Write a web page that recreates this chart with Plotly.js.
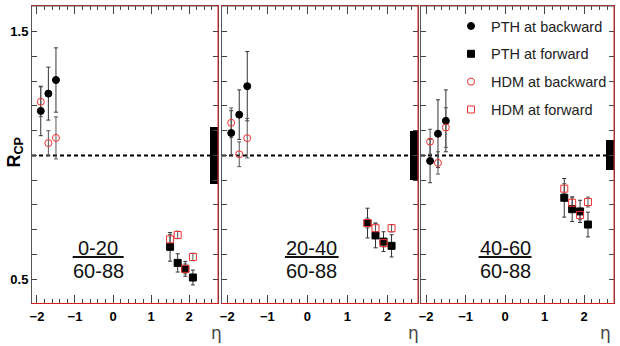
<!DOCTYPE html>
<html><head><meta charset="utf-8">
<script src="https://cdn.plot.ly/plotly-3.0.1.min.js"></script>
<style>html,body{margin:0;padding:0;background:#fff}#plot{width:620px;height:346px}</style>
</head><body><div id="plot"></div>
<script>
// eta positions
const etaBackward = [-1.9, -1.7, -1.5];
const etaForward = [1.5, 1.7, 1.9, 2.1];
// centrality panels
const panelNum = ["0-20", "20-40", "40-60"];
const panelDen = ["60-88", "60-88", "60-88"];
// PTH backward (filled circles)
const pthBack = [[1.18, 1.25, 1.305], [1.091, 1.165, 1.28], [0.978, 1.088, 1.14]];
const pthBackErr = [[0.10, 0.107, 0.13], [0.09, 0.10, 0.14], [0.088, 0.137, 0.125]];
// PTH forward (filled squares)
const pthFwd = [[0.631, 0.566, 0.542, 0.507], [0.727, 0.677, 0.652, 0.635], [0.829, 0.783, 0.774, 0.721]];
const pthFwdErr = [[0.058, 0.037, 0.03, 0.03], [0.06, 0.05, 0.04, 0.045], [0.078, 0.05, 0.045, 0.05]];
// HDM backward (open red circles)
const hdmBack = [[1.217, 1.05, 1.071], [1.132, 1.005, 1.07], [1.056, 0.970, 1.113]];
const hdmBackErr = [[0.06, 0.05, 0.085], [0.06, 0.05, 0.08], [0.05, 0.045, 0.08]];
// HDM forward (open red squares)
const hdmFwd = [[0.661, 0.679, 0.542, 0.590], [0.727, 0.706, 0.646, 0.706], [0.866, 0.809, 0.760, 0.812]];
const hdmFwdErr = [[0.02, 0.015, 0.02, 0.015], [0.02, 0.02, 0.015, 0.015], [0.02, 0.02, 0.02, 0.02]];
// normalization uncertainty boxes
const normEta = [2.65, 2.65, 2.65];
const normLow = [0.885, 0.90, 0.94];
const normHigh = [1.115, 1.10, 1.063];
const seriesNames = ["PTH at backward", "PTH at forward", "HDM at backward", "HDM at forward"];

const xDomains = [[32/620, 218/620], [222/620, 418/620], [421/620, 614/620]];
const yDomain = [1 - 303/346, 1 - 6/346];
const xRange = [-2.13, 2.76];
const yRange = [0.404, 1.604];
const font = "Liberation Sans, Arial, sans-serif";
const red = "#f03030";

const traces = [];
const layout = {
  width: 620, height: 346, margin: {l: 0, r: 0, t: 0, b: 0, autoexpand: false},
  paper_bgcolor: "#fff", plot_bgcolor: "#fff", showlegend: true,
  legend: {x: 612/620, y: 1 - 10/346, xanchor: "right", yanchor: "top", bgcolor: "rgba(0,0,0,0)",
    font: {family: font, size: 14.5, color: "#222"}, tracegroupgap: 6},
  shapes: [], annotations: [], bargap: 0
};

for (let p = 0; p < 3; p++) {
  const xa = p === 0 ? "x" : "x" + (p + 1);
  const ya = p === 0 ? "y" : "y" + (p + 1);
  const xk = p === 0 ? "xaxis" : "xaxis" + (p + 1);
  const yk = p === 0 ? "yaxis" : "yaxis" + (p + 1);
  const show = p === 2;
  traces.push({type: "bar", x: [normEta[p]], y: [normHigh[p] - normLow[p]], base: [normLow[p]], width: 0.2,
    marker: {color: "#000", line: {width: 0}}, xaxis: xa, yaxis: ya, showlegend: false, hoverinfo: "skip"});
  const series = [
    {x: etaBackward, y: pthBack[p], e: pthBackErr[p], ec: "#333", sym: "circle", col: "#000", g: "a", n: seriesNames[0]},
    {x: etaForward, y: pthFwd[p], e: pthFwdErr[p], ec: "#333", sym: "square", col: "#000", g: "b", n: seriesNames[1]},
    {x: etaBackward, y: hdmBack[p], e: hdmBackErr[p], ec: "#555", sym: "circle-open", col: red, g: "c", n: seriesNames[2]},
    {x: etaForward, y: hdmFwd[p], e: hdmFwdErr[p], ec: "#555", sym: "square-open", col: red, g: "d", n: seriesNames[3]}
  ];
  // error bars (no legend)
  series.forEach(s => traces.push({type: "scatter", mode: "markers", x: s.x, y: s.y, xaxis: xa, yaxis: ya,
    showlegend: false, marker: {size: 7, opacity: 0, color: s.col},
    error_y: {type: "data", array: s.e, color: s.ec, thickness: 1, width: 2}}));
  // markers
  series.forEach(s => traces.push({type: "scatter", mode: "markers", x: s.x, y: s.y, xaxis: xa, yaxis: ya,
    name: s.n, legendgroup: s.g, showlegend: show,
    marker: {symbol: s.sym, size: 7, color: s.col, line: {width: 1, color: s.col}}}));

  layout[xk] = {domain: xDomains[p], range: xRange, anchor: ya, showgrid: false, zeroline: false,
    showline: true, linecolor: "#d42020", linewidth: 1, mirror: "ticks",
    ticks: "inside", ticklen: 8, tickcolor: "#444", tickwidth: 1, dtick: 1, tick0: 0,
    minor: {ticks: "inside", ticklen: 4, dtick: 0.2, tick0: 0, tickcolor: "#444", showgrid: false},
    tickfont: {family: font, size: 13, color: "#000", weight: "bold"}, ticklabelstandoff: 1, fixedrange: true};
  layout[yk] = {domain: yDomain, range: yRange, anchor: xa, showgrid: false, zeroline: false,
    showline: true, linecolor: "#555", linewidth: 1, mirror: "ticks",
    ticks: "inside", ticklen: 5, tickcolor: "#444", tickwidth: 1,
    tickmode: "array", tickvals: [0.5, 1.5], ticktext: ["0.5", "1.5"], showticklabels: p === 0,
    minor: {ticks: "inside", ticklen: 5, dtick: 0.1, tick0: 0, tickcolor: "#444", showgrid: false},
    tickfont: {family: font, size: 13, color: "#000", weight: "bold"}, fixedrange: true};

  // top (dark) and right (red) frame lines
  layout.shapes.push({type: "line", xref: xa + " domain", yref: ya + " domain", x0: 0, x1: 1, y0: 1, y1: 1,
    line: {color: "#555", width: 1}, layer: "above"});
  layout.shapes.push({type: "line", xref: xa + " domain", yref: ya + " domain", x0: 1, x1: 1, y0: 0, y1: 1,
    line: {color: "#d42020", width: 1}, layer: "above"});
  // reference line at R_CP = 1
  layout.shapes.push({type: "line", xref: xa + " domain", yref: ya, x0: 0, x1: 1, y0: 1, y1: 1,
    line: {color: "#000", width: 2, dash: "4px,3px"}, layer: "below"});
  // fraction label
  const cx = [-0.39, 0.11, 0.0][p];
  layout.annotations.push({xref: xa, yref: ya, x: cx, y: 0.626, text: panelNum[p], showarrow: false,
    font: {family: font, size: 20, color: "#111"}});
  layout.annotations.push({xref: xa, yref: ya, x: cx, y: 0.533, text: panelDen[p], showarrow: false,
    font: {family: font, size: 20, color: "#111"}});
  layout.shapes.push({type: "line", xref: xa, yref: ya, x0: cx - 0.67, x1: cx + 0.67, y0: 0.59, y1: 0.59,
    line: {color: "#111", width: 2}});
  // eta label
  layout.annotations.push({xref: "paper", yref: "paper", x: [216, 413, 613][p] / 620, y: 1 - 333/346,
    yanchor: "middle", text: "η", showarrow: false, font: {family: "DejaVu Sans, sans-serif", size: 17, color: "#444"}});
}
layout.annotations.push({xref: "paper", yref: "paper", x: 1/620, xanchor: "left", y: 1 - 152/346, textangle: -90,
  text: "R<sub>CP</sub>", showarrow: false, font: {family: font, size: 18, color: "#000", weight: "bold"}});

Plotly.newPlot("plot", traces, layout, {displayModeBar: false, staticPlot: true});
</script></body></html>
